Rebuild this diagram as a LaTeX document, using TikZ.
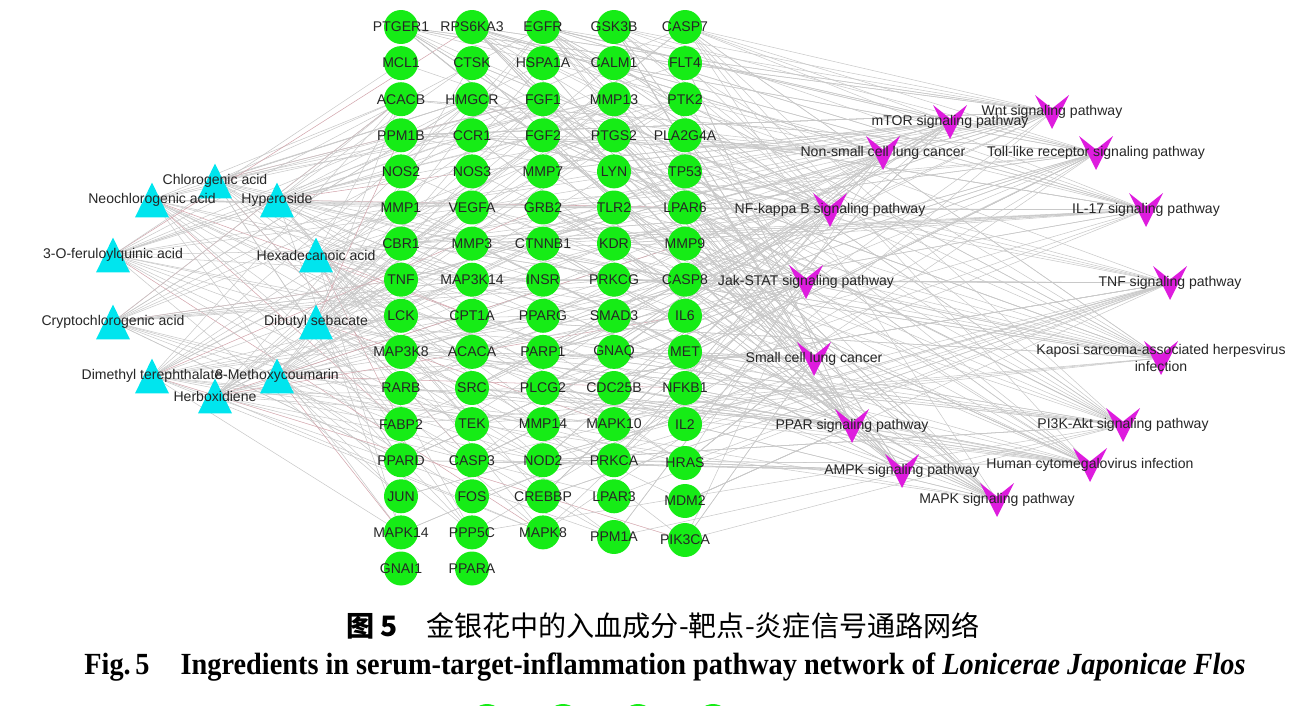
\documentclass[tikz,border=0pt]{standalone}
\usepackage{fontspec}
\setsansfont{Liberation Sans}
\newfontfamily\capserif{Liberation Serif}
\newfontfamily\cjk{Noto Sans CJK SC}
\usepackage{tikz}
\usetikzlibrary{backgrounds}

\definecolor{nodegreen}{RGB}{22,236,22}
\definecolor{drugcyan}{RGB}{0,229,238}
\definecolor{pathmag}{RGB}{222,28,222}
\definecolor{edgegray}{RGB}{200,200,200}
\definecolor{edgerose}{RGB}{210,165,172}

\begin{document}
\begin{tikzpicture}[x=0.02cm, y=-0.02cm,
            shapebox/.style={rectangle, inner sep=0pt, minimum width=0.72cm, minimum height=0.72cm,
                font=\sffamily\fontsize{8}{9.4}\selectfont, text=black!85},
            target/.style={shapebox, path picture={
                \fill[nodegreen] (path picture bounding box.center) circle (0.34cm);}},
            drug/.style={shapebox, path picture={
                \fill[drugcyan] ([yshift=0.35cm]path picture bounding box.center)
                    -- ([shift={(-0.34cm,-0.35cm)}]path picture bounding box.center)
                    -- ([shift={(0.34cm,-0.35cm)}]path picture bounding box.center) -- cycle;}},
            pathway/.style={shapebox, align=center, path picture={
                \fill[pathmag] ([shift={(-0.34cm,0.34cm)}]path picture bounding box.center)
                    -- ([yshift=0.07cm]path picture bounding box.center)
                    -- ([shift={(0.34cm,0.34cm)}]path picture bounding box.center)
                    -- ([yshift=-0.34cm]path picture bounding box.center) -- cycle;}},
            link/.style={line width=0.3pt}
        ]

        \useasboundingbox (0,0) rectangle (1292,706);

        % Ingredients (triangles)
        \node[drug] (c1) at (215,181) {Chlorogenic acid};
        \node[drug] (c2) at (152,200) {Neochlorogenic acid};
        \node[drug] (c3) at (277,200) {Hyperoside};
        \node[drug] (c4) at (113,255) {3-O-feruloylquinic acid};
        \node[drug] (c5) at (316,255) {Hexadecanoic acid};
        \node[drug] (c6) at (113,322) {Cryptochlorogenic acid};
        \node[drug] (c7) at (316,322) {Dibutyl sebacate};
        \node[drug] (c8) at (152,376) {Dimethyl terephthalate};
        \node[drug] (c9) at (277,376) {8-Methoxycoumarin};
        \node[drug] (c10) at (215,396) {Herboxidiene};

        % Targets (five columns)
        \foreach \lab [count=\r] in {PTGER1,MCL1,ACACB,PPM1B,NOS2,MMP1,CBR1,TNF,LCK,MAP3K8,RARB,FABP2,PPARD,JUN,MAPK14,GNAI1}
            \node[target] (t1-\r) at (401,{27+36.1*(\r-1)}) {\lab};
        \foreach \lab [count=\r] in {RPS6KA3,CTSK,HMGCR,CCR1,NOS3,VEGFA,MMP3,MAP3K14,CPT1A,ACACA,SRC,TEK,CASP3,FOS,PPP5C,PPARA}
            \node[target] (t2-\r) at (472,{27+36.1*(\r-1)}) {\lab};
        \foreach \lab [count=\r] in {EGFR,HSPA1A,FGF1,FGF2,MMP7,GRB2,CTNNB1,INSR,PPARG,PARP1,PLCG2,MMP14,NOD2,CREBBP,MAPK8}
            \node[target] (t3-\r) at (543,{27+36.1*(\r-1)}) {\lab};
        \foreach \lab [count=\r] in {GSK3B,CALM1,MMP13,PTGS2,LYN,TLR2,KDR,PRKCG,SMAD3,GNAQ,CDC25B,MAPK10,PRKCA,LPAR3}
            \node[target] (t4-\r) at (614,{27+36.1*(\r-1)}) {\lab};
        \node[target] (t4-15) at (614,537) {PPM1A};
        \foreach \lab [count=\r] in {CASP7,FLT4,PTK2,PLA2G4A,TP53,LPAR6,MMP9,CASP8,IL6,MET,NFKB1,IL2}
            \node[target] (t5-\r) at (685,{27+36.1*(\r-1)}) {\lab};
        \node[target] (t5-13) at (685,463) {HRAS};
        \node[target] (t5-14) at (685,501) {MDM2};
        \node[target] (t5-15) at (685,540) {PIK3CA};

        % Pathways (V shapes)
        \node[pathway] (p1) at (1052,112) {Wnt signaling pathway};
        \node[pathway] (p2) at (950,122) {mTOR signaling pathway};
        \node[pathway] (p3) at (883,153) {Non-small cell lung cancer};
        \node[pathway] (p4) at (1096,153) {Toll-like receptor signaling pathway};
        \node[pathway] (p5) at (830,210) {NF-kappa B signaling pathway};
        \node[pathway] (p6) at (1146,210) {IL-17 signaling pathway};
        \node[pathway] (p7) at (806,282) {Jak-STAT signaling pathway};
        \node[pathway] (p8) at (1170,283) {TNF signaling pathway};
        \node[pathway] (p9) at (814,359) {Small cell lung cancer};
        \node[pathway] (p10) at (1161,358) {Kaposi sarcoma-associated herpesvirus\\infection};
        \node[pathway] (p11) at (852,426) {PPAR signaling pathway};
        \node[pathway] (p12) at (1123,425) {PI3K-Akt signaling pathway};
        \node[pathway] (p13) at (902,471) {AMPK signaling pathway};
        \node[pathway] (p14) at (1090,465) {Human cytomegalovirus infection};
        \node[pathway] (p15) at (997,500) {MAPK signaling pathway};

        % Edges
        \begin{scope}[on background layer]
            \foreach \i in {1,...,10}
                \foreach \k in {1,...,20}{
                    \pgfmathtruncatemacro\n{mod(\i*37+\k*53+\i*\k*17,75)}
                    \pgfmathtruncatemacro\col{div(\n,15)+1}
                    \pgfmathtruncatemacro\row{mod(\n,15)+1}
                    \ifnum\k<3 \def\ec{edgerose}\else\def\ec{edgegray}\fi
                    \draw[link, draw=\ec] (c\i.center) -- (t\col-\row.center);
                }
            \foreach \j in {1,...,15}
                \foreach \k in {1,...,26}{
                    \pgfmathtruncatemacro\n{mod(\j*41+\k*29+\j*\k*13+\k*\k*7,75)}
                    \pgfmathtruncatemacro\col{div(\n,15)+1}
                    \pgfmathtruncatemacro\row{mod(\n,15)+1}
                    \draw[link, draw=edgegray] (t\col-\row.center) -- (p\j.center);
                }
        \end{scope}

        % next figure peeking in at the bottom
        \foreach \x in {487,563,638,713}
            \fill[nodegreen] (\x,721) circle (0.34cm);

        % Caption
        \node[font=\cjk\fontsize{16}{18}\selectfont] (capcn) at (663,626)
            {{\bfseries 图 5}\hspace{1em}金银花中的入血成分-靶点-炎症信号通路网络};
        \node[font=\capserif\bfseries\fontsize{17.5}{20}\selectfont] (capen) at (665,667)
            {\scalebox{0.92}[1]{Fig.\,5\hspace{1.1em}Ingredients in serum-target-inflammation pathway network of \textit{Lonicerae Japonicae Flos}}};

    \end{tikzpicture}
\end{document}
